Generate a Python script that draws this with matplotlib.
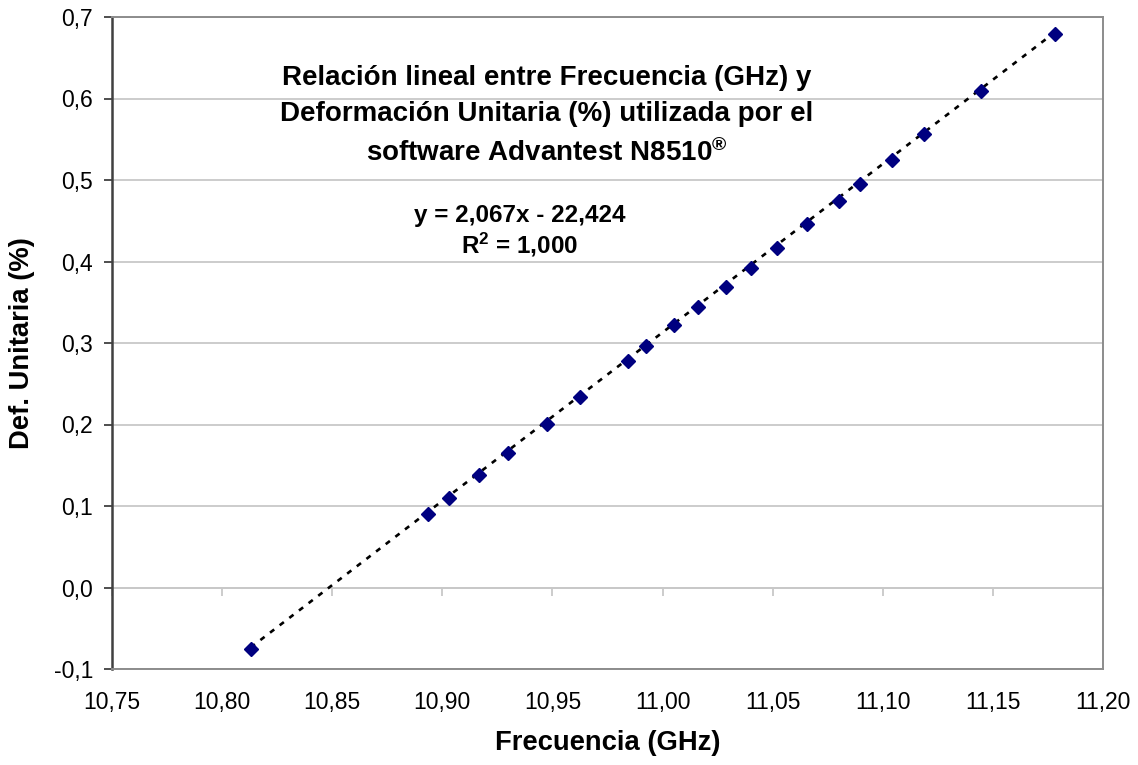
import matplotlib.pyplot as plt
import numpy as np

plt.rcParams["font.family"] = ["Liberation Sans", "DejaVu Sans"]
plt.rcParams["mathtext.fontset"] = "custom"
plt.rcParams["mathtext.rm"] = "Liberation Sans"
plt.rcParams["mathtext.bf"] = "Liberation Sans:bold"
plt.rcParams["mathtext.default"] = "bf"

# frecuencia medida (GHz) y deformacion unitaria (%)
freq = [10.813, 10.8935, 10.903, 10.9167, 10.930, 10.9474, 10.9627, 10.9843,
        10.9927, 11.0052, 11.0163, 11.0288, 11.0402, 11.052, 11.0656, 11.080,
        11.0898, 11.1042, 11.1188, 11.1448, 11.1784]
strain = [-0.076, 0.090, 0.110, 0.1385, 0.165, 0.201, 0.234, 0.278,
          0.296, 0.322, 0.344, 0.369, 0.392, 0.417, 0.446, 0.474,
          0.495, 0.525, 0.556, 0.609, 0.679]

# recta de ajuste
slope = 2.067
intercept = -22.424
r2 = 1.000

xticks = [10.75, 10.80, 10.85, 10.90, 10.95, 11.00, 11.05, 11.10, 11.15, 11.20]
xticklabels = ["10,75", "10,80", "10,85", "10,90", "10,95", "11,00", "11,05",
               "11,10", "11,15", "11,20"]
yticks = [-0.1, 0.0, 0.1, 0.2, 0.3, 0.4, 0.5, 0.6, 0.7]
yticklabels = ["-0,1", "0,0", "0,1", "0,2", "0,3", "0,4", "0,5", "0,6", "0,7"]


def coma(v, nd):
    return f"{v:.{nd}f}".replace(".", ",")


fig = plt.figure(figsize=(11.38, 7.65), dpi=100)
ax = fig.add_axes([112 / 1138, 1 - 669 / 765, 991 / 1138, 652 / 765])

ax.set_xlim(10.75, 11.20)
ax.set_ylim(-0.1, 0.7)
ax.set_yticks(yticks)
ax.set_yticklabels(yticklabels)
ax.set_xticks(xticks)
ax.set_xticklabels(xticklabels)
ax.grid(axis="y", color="#c8c8c8", linewidth=1.3)
ax.set_axisbelow(True)

ax.tick_params(axis="y", direction="out", length=5.5, width=1.3, color="#404040",
               labelsize=16.5, pad=8)
ax.tick_params(axis="x", length=0, labelsize=16.5, pad=16)

for s in ["top", "right", "bottom"]:
    ax.spines[s].set_color("#8c8c8c")
    ax.spines[s].set_linewidth(1.4)
ax.spines["left"].set_color("#404040")
ax.spines["left"].set_linewidth(1.8)

# eje horizontal en y = 0 con marcas
sec = ax.secondary_xaxis(0.125)
sec.xaxis.set_ticks_position("bottom")
sec.set_xticks(xticks)
sec.set_xticklabels([])
sec.tick_params(axis="x", direction="out", length=6, width=1.3, color="#c8c8c8",
                labelbottom=False, labeltop=False)
sec.spines["bottom"].set_color("#c8c8c8")
sec.spines["bottom"].set_linewidth(1.3)

# linea de tendencia
xt = np.array([min(freq), max(freq)])
ax.plot(xt, slope * xt + intercept, color="black", linewidth=1.9,
        linestyle=(0, (2.0, 2.6)), zorder=2)

ax.plot(freq, strain, linestyle="none", marker="D", markersize=7.2,
        color="#000080", markeredgecolor="#000080", zorder=3)

ax.text(0.439, 0.848,
        "Relación lineal entre Frecuencia (GHz) y\n"
        "Deformación Unitaria (%) utilizada por el\n"
        "software Advantest N8510$^{\\circledR}$",
        transform=ax.transAxes, ha="center", va="center", multialignment="center",
        fontsize=20, fontweight="bold", linespacing=1.5)

sign = "-" if intercept < 0 else "+"
ax.text(0.4117, 0.6706,
        f"y = {coma(slope, 3)}x {sign} {coma(abs(intercept), 3)}\n"
        f"R$^2$ = {coma(r2, 3)}",
        transform=ax.transAxes, ha="center", va="center", multialignment="center",
        fontsize=17.5, fontweight="bold", linespacing=1.15)

ax.text(0.5, -0.114, "Frecuencia (GHz)", transform=ax.transAxes,
        ha="center", va="center", fontsize=19.7, fontweight="bold")
ax.text(-0.0905, 0.5, "Def. Unitaria (%)", transform=ax.transAxes, rotation=90,
        ha="center", va="center", fontsize=19.7, fontweight="bold")

fig.savefig("out.png", dpi=100)
